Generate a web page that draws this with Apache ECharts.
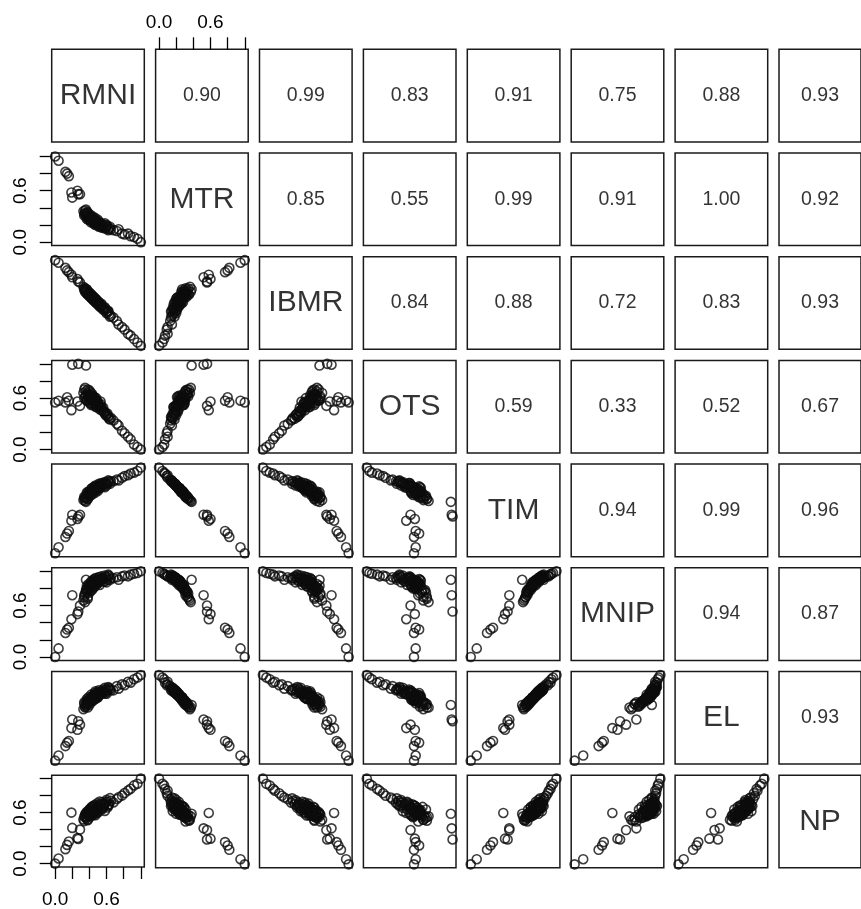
<!DOCTYPE html>
<html>
<head>
<meta charset="utf-8">
<script src="https://cdn.jsdelivr.net/npm/echarts@6/dist/echarts.min.js"></script>
<style>
  html, body { margin: 0; padding: 0; background: #ffffff; }
  #chart { width: 861px; height: 909px; }
</style>
</head>
<body>
<div id="chart"></div>
<script>
// Variable names shown on the diagonal
const variables = ['RMNI', 'MTR', 'IBMR', 'OTS', 'TIM', 'MNIP', 'EL', 'NP'];

// Normalised observations (0..1), one array per variable, same observation order
const RMNI = [0.00, 0.04, 0.12, 0.14, 0.16, 0.19, 0.26, 0.29,
  0.20, 0.27, 0.36,
  0.33, 0.34, 0.35, 0.36, 0.37, 0.38, 0.39, 0.40, 0.41, 0.42, 0.43, 0.44, 0.45,
  0.46, 0.47, 0.48, 0.49, 0.50, 0.52, 0.53, 0.55, 0.57, 0.59, 0.61, 0.63, 0.65,
  0.68, 0.72, 0.74, 0.78, 0.81, 0.85, 0.88, 0.92, 0.96, 1.00,
  0.34, 0.35, 0.37, 0.38, 0.39, 0.40, 0.41, 0.42, 0.43, 0.44, 0.45, 0.46,
  0.47, 0.48, 0.49, 0.50, 0.51, 0.52, 0.54, 0.56, 0.58, 0.60, 0.62, 0.64,
  0.36, 0.37, 0.38, 0.40, 0.41, 0.42, 0.43, 0.44, 0.45, 0.46,
  0.47, 0.48, 0.50, 0.51, 0.53, 0.54, 0.56, 0.58, 0.60, 0.62];
const MTR = [1.00, 0.95, 0.82, 0.80, 0.77, 0.58, 0.60, 0.56,
  0.52, 0.56, 0.38,
  0.36, 0.33, 0.34, 0.31, 0.30, 0.32, 0.28, 0.29, 0.27, 0.26, 0.27, 0.24, 0.25,
  0.23, 0.24, 0.22, 0.23, 0.21, 0.20, 0.21, 0.19, 0.18, 0.17, 0.19, 0.16, 0.15,
  0.14, 0.13, 0.15, 0.10, 0.09, 0.10, 0.07, 0.06, 0.04, 0.00,
  0.31, 0.37, 0.29, 0.34, 0.26, 0.31, 0.30, 0.23, 0.29, 0.27, 0.22, 0.26,
  0.20, 0.25, 0.21, 0.24, 0.19, 0.23, 0.17, 0.21, 0.16, 0.20, 0.14, 0.18,
  0.33, 0.27, 0.35, 0.27, 0.32, 0.29, 0.24, 0.30, 0.27, 0.21,
  0.28, 0.24, 0.26, 0.18, 0.22, 0.20, 0.17, 0.22, 0.18, 0.15];
const IBMR = [1.00, 0.97, 0.91, 0.88, 0.86, 0.83, 0.78, 0.74,
  0.80, 0.75, 0.66,
  0.69, 0.65, 0.67, 0.63, 0.64, 0.61, 0.62, 0.59, 0.60, 0.57, 0.58, 0.55, 0.56,
  0.53, 0.54, 0.52, 0.50, 0.51, 0.48, 0.47, 0.45, 0.43, 0.42, 0.40, 0.37, 0.35,
  0.33, 0.29, 0.25, 0.22, 0.19, 0.14, 0.12, 0.08, 0.04, 0.00,
  0.67, 0.63, 0.65, 0.60, 0.63, 0.58, 0.61, 0.56, 0.59, 0.54, 0.57, 0.52,
  0.55, 0.50, 0.53, 0.48, 0.51, 0.46, 0.48, 0.42, 0.44, 0.38, 0.40, 0.34,
  0.62, 0.66, 0.60, 0.62, 0.57, 0.60, 0.55, 0.58, 0.53, 0.56,
  0.51, 0.54, 0.49, 0.51, 0.45, 0.49, 0.43, 0.45, 0.39, 0.41];
const OTS = [0.55, 0.57, 0.55, 0.61, 0.57, 0.46, 0.56, 0.51,
  0.99, 1.00, 0.98,
  0.66, 0.70, 0.62, 0.68, 0.58, 0.64, 0.60, 0.55, 0.63, 0.58, 0.61, 0.56, 0.59,
  0.54, 0.57, 0.53, 0.56, 0.52, 0.50, 0.53, 0.47, 0.44, 0.40, 0.42, 0.36, 0.37,
  0.34, 0.30, 0.28, 0.22, 0.19, 0.15, 0.12, 0.06, 0.03, 0.00,
  0.60, 0.72, 0.57, 0.66, 0.62, 0.69, 0.54, 0.60, 0.65, 0.52, 0.62, 0.55,
  0.50, 0.60, 0.49, 0.55, 0.51, 0.47, 0.50, 0.45, 0.42, 0.40, 0.38, 0.35,
  0.64, 0.58, 0.70, 0.57, 0.67, 0.52, 0.63, 0.58, 0.56, 0.61,
  0.52, 0.58, 0.54, 0.50, 0.56, 0.46, 0.49, 0.44, 0.41, 0.39];
const TIM = [0.00, 0.07, 0.19, 0.23, 0.26, 0.38, 0.40, 0.45,
  0.45, 0.43, 0.60,
  0.62, 0.64, 0.65, 0.66, 0.68, 0.67, 0.70, 0.71, 0.72, 0.71, 0.73, 0.74, 0.73,
  0.75, 0.76, 0.77, 0.76, 0.78, 0.79, 0.78, 0.80, 0.81, 0.82, 0.81, 0.83, 0.84,
  0.84, 0.86, 0.85, 0.88, 0.90, 0.91, 0.93, 0.94, 0.96, 1.00,
  0.66, 0.61, 0.69, 0.64, 0.72, 0.67, 0.68, 0.75, 0.70, 0.72, 0.77, 0.73,
  0.79, 0.74, 0.78, 0.75, 0.80, 0.76, 0.82, 0.78, 0.83, 0.79, 0.85, 0.81,
  0.65, 0.71, 0.63, 0.71, 0.67, 0.70, 0.76, 0.69, 0.73, 0.78,
  0.71, 0.75, 0.73, 0.81, 0.77, 0.79, 0.82, 0.77, 0.81, 0.84];
const MNIP = [0.00, 0.10, 0.28, 0.32, 0.34, 0.44, 0.50, 0.60,
  0.72, 0.53, 0.90,
  0.66, 0.70, 0.74, 0.78, 0.80, 0.76, 0.82, 0.84, 0.83, 0.86, 0.85, 0.87, 0.88,
  0.86, 0.89, 0.88, 0.90, 0.89, 0.91, 0.90, 0.92, 0.91, 0.93, 0.90, 0.94, 0.92,
  0.92, 0.93, 0.90, 0.94, 0.95, 0.94, 0.96, 0.97, 0.98, 1.00,
  0.72, 0.64, 0.79, 0.70, 0.85, 0.75, 0.80, 0.88, 0.78, 0.84, 0.90, 0.82,
  0.92, 0.85, 0.88, 0.86, 0.93, 0.84, 0.94, 0.88, 0.95, 0.87, 0.96, 0.90,
  0.76, 0.83, 0.68, 0.81, 0.77, 0.82, 0.89, 0.80, 0.85, 0.91,
  0.83, 0.87, 0.86, 0.93, 0.89, 0.91, 0.92, 0.88, 0.93, 0.95];
const EL = [0.00, 0.06, 0.17, 0.21, 0.23, 0.38, 0.36, 0.42,
  0.48, 0.46, 0.65,
  0.60, 0.66, 0.63, 0.67, 0.70, 0.66, 0.71, 0.70, 0.73, 0.72, 0.74, 0.75, 0.73,
  0.76, 0.77, 0.76, 0.78, 0.79, 0.78, 0.80, 0.81, 0.80, 0.83, 0.82, 0.84, 0.82,
  0.82, 0.87, 0.84, 0.89, 0.88, 0.92, 0.91, 0.95, 0.97, 1.00,
  0.68, 0.62, 0.67, 0.66, 0.74, 0.65, 0.70, 0.77, 0.69, 0.74, 0.76, 0.72,
  0.81, 0.73, 0.80, 0.74, 0.82, 0.77, 0.80, 0.79, 0.85, 0.78, 0.86, 0.83,
  0.64, 0.72, 0.62, 0.70, 0.68, 0.71, 0.75, 0.70, 0.72, 0.79,
  0.72, 0.76, 0.74, 0.80, 0.78, 0.78, 0.83, 0.78, 0.80, 0.85];
const NP = [0.00, 0.06, 0.17, 0.22, 0.26, 0.60, 0.30, 0.40,
  0.42, 0.29, 0.59,
  0.52, 0.55, 0.58, 0.54, 0.60, 0.57, 0.62, 0.56, 0.63, 0.60, 0.64, 0.58, 0.66,
  0.62, 0.60, 0.65, 0.68, 0.63, 0.66, 0.70, 0.64, 0.68, 0.72, 0.66, 0.70, 0.74,
  0.72, 0.76, 0.78, 0.80, 0.83, 0.86, 0.88, 0.92, 0.94, 1.00,
  0.50, 0.56, 0.61, 0.52, 0.58, 0.64, 0.55, 0.62, 0.67, 0.57, 0.61, 0.69,
  0.59, 0.64, 0.71, 0.60, 0.67, 0.73, 0.65, 0.70, 0.62, 0.75, 0.68, 0.77,
  0.55, 0.59, 0.51, 0.63, 0.57, 0.66, 0.60, 0.58, 0.68, 0.62,
  0.57, 0.66, 0.61, 0.69, 0.64, 0.72, 0.66, 0.70, 0.73, 0.69];

// Pairwise correlation labels for the upper triangle, row by row
const corrRow1 = ['0.90', '0.99', '0.83', '0.91', '0.75', '0.88', '0.93'];
const corrRow2 = ['0.85', '0.55', '0.99', '0.91', '1.00', '0.92'];
const corrRow3 = ['0.84', '0.88', '0.72', '0.83', '0.93'];
const corrRow4 = ['0.59', '0.33', '0.52', '0.67'];
const corrRow5 = ['0.94', '0.99', '0.96'];
const corrRow6 = ['0.94', '0.87'];
const corrRow7 = ['0.93'];

// Axis ticks and the labels that are printed
const tickValues = [0, 0.2, 0.4, 0.6, 0.8, 1.0];
const tickLabelValues = [0, 0.6];

const columns = [RMNI, MTR, IBMR, OTS, TIM, MNIP, EL, NP];
const corrRows = [corrRow1, corrRow2, corrRow3, corrRow4, corrRow5, corrRow6, corrRow7];

const N = variables.length;
const LEFT0 = 51.7, TOP0 = 49.3, STEP_X = 103.9, STEP_Y = 103.7, SIDE = 92.6;
const AXIS_MIN = -0.04, AXIS_MAX = 1.04;
const INK = '#000000';
const FONT = "'Liberation Sans', Arial, Helvetica, sans-serif";

function makeAxis(g, position, visible, margin, rotate) {
  return {
    gridIndex: g,
    type: 'value',
    min: AXIS_MIN,
    max: AXIS_MAX,
    position: position,
    axisLine: { show: false, onZero: false },
    splitLine: { show: false },
    axisTick: {
      show: visible, inside: false, length: 12,
      customValues: tickValues,
      lineStyle: { color: INK, width: 1.3 }
    },
    axisLabel: {
      show: visible,
      customValues: tickLabelValues,
      formatter: v => Number(v).toFixed(1),
      margin: margin,
      rotate: rotate,
      color: INK,
      fontSize: 19,
      fontFamily: FONT
    }
  };
}

const grids = [], xAxes = [], yAxes = [], series = [];

for (let i = 0; i < N; i++) {
  for (let j = 0; j < N; j++) {
    const g = i * N + j;
    grids.push({
      left: LEFT0 + j * STEP_X,
      top: TOP0 + i * STEP_Y,
      width: SIDE,
      height: SIDE,
      show: true,
      borderColor: '#1a1a1a',
      borderWidth: 1.5,
      backgroundColor: 'transparent'
    });

    const topAxis = (i === 0 && j === 1);
    const bottomAxis = (i === N - 1 && j === 0);
    const leftAxis = (j === 0 && i % 2 === 1);

    xAxes.push(makeAxis(g, topAxis ? 'top' : 'bottom', topAxis || bottomAxis, topAxis ? 17 : 23, 0));
    yAxes.push(makeAxis(g, 'left', leftAxis, 21, 90));

    if (i > j) {
      // scatter of column variable (x) against row variable (y)
      const xs = columns[j], ys = columns[i];
      series.push({
        type: 'scatter',
        xAxisIndex: g,
        yAxisIndex: g,
        data: xs.map((v, k) => [v, ys[k]]),
        symbol: 'circle',
        symbolSize: 9,
        clip: true,
        silent: true,
        itemStyle: { color: 'rgba(0,0,0,0)', borderColor: '#0d0d0d', borderWidth: 1.6 }
      });
    } else {
      const text = (i === j) ? variables[i] : corrRows[i][j - i - 1];
      series.push({
        type: 'scatter',
        xAxisIndex: g,
        yAxisIndex: g,
        data: [[0.5, 0.5]],
        symbol: 'circle',
        symbolSize: 1,
        silent: true,
        itemStyle: { color: 'rgba(0,0,0,0)' },
        label: {
          show: true,
          position: 'inside',
          formatter: text,
          color: INK,
          fontSize: (i === j) ? 30 : 19.5,
          fontFamily: FONT
        }
      });
    }
  }
}

const chart = echarts.init(document.getElementById('chart'), null, { renderer: 'canvas' });
chart.setOption({
  animation: false,
  backgroundColor: '#ffffff',
  grid: grids,
  xAxis: xAxes,
  yAxis: yAxes,
  series: series
});
</script>
</body>
</html>
